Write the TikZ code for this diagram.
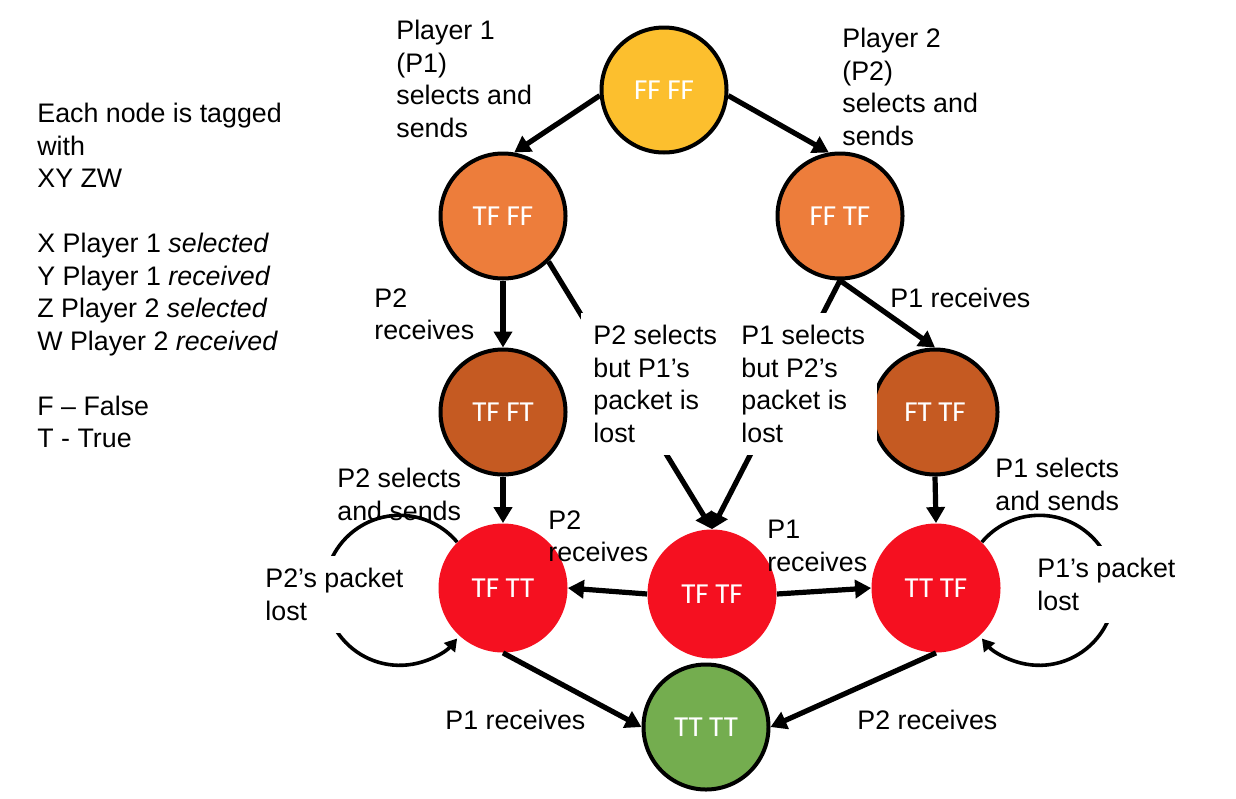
\documentclass[tikz,border=0pt]{standalone}
\usepackage{fontspec}
\setmainfont{Liberation Sans}
\newfontfamily\statefont{Carlito}
\usetikzlibrary{arrows.meta}
\definecolor{stateyellow}{HTML}{FCBF2E}
\definecolor{stateorange}{HTML}{ED7D3B}
\definecolor{statebrown}{HTML}{C55A22}
\definecolor{statered}{HTML}{F51020}
\definecolor{stategreen}{HTML}{74AD4F}
\tikzset{
  state/.style={circle,draw,line width=2pt,minimum size=62.5pt,inner sep=0pt,text=white,font=\statefont\fontsize{14.5}{16}\selectfont},
  redstate/.style={circle,fill=statered,minimum size=64.5pt,inner sep=0pt,text=white,font=\statefont\fontsize{14.5}{16}\selectfont},
  move/.style={line width=2.6pt,-{Triangle[length=8pt,width=9pt]}},
  loopline/.style={line width=1.8pt,-{Triangle[length=6pt,width=7pt]}},
  note/.style={anchor=north west,align=left,inner sep=0pt},
  cover/.style={note,fill=white,inner sep=6pt}
}
\begin{document}
\begin{tikzpicture}[x=0.5pt,y=0.5pt,font=\fontsize{13.4}{16.25}\selectfont]
\useasboundingbox (0,0) rectangle (1236,-798);
% states
\node[state,fill=stateyellow] (ffff) at (664,-90) {FF FF};
\node[state,fill=stateorange] (tfff) at (503,-216) {TF FF};
\node[state,fill=stateorange] (fftf) at (840,-216) {FF TF};
\node[state,fill=statebrown] (tfft) at (503,-412) {TF FT};
\node[state,fill=statebrown] (fttf) at (935,-412) {FT TF};
\node[redstate] (tftt) at (503,-588) {TF TT};
\node[redstate] (tftf) at (712,-594) {TF TF};
\node[redstate] (tttf) at (936,-588) {TT TF};
\node[state,fill=stategreen] (tttt) at (706,-727) {TT TT};
% transitions
\draw[move] (ffff.185) -- (tfff.80);
\draw[move] (ffff.-5) -- (fftf.100);
\draw[move] (tfff.south) -- (tfft.north);
\draw[move] (tfff.-45) -- (tftf.north);
\draw[move] (fftf.south) -- (tftf.north);
\draw[move] (fftf.south) -- (fttf.north);
\draw[move] (tfft.south) -- (tftt.north);
\draw[move] (fttf.south) -- (tttf.north);
\draw[move] (tftf.west) -- (tftt.east);
\draw[move] (tftf.east) -- (tttf.west);
\draw[move] (tftt.south) -- (tttt.west);
\draw[move] (tttf.south) -- (tttt.east);
\draw[loopline] (tftt.135) arc[start angle=40,end angle=320,radius=75];
\draw[loopline] (tttf.45) arc[start angle=140,end angle=-140,radius=75];
% labels
\node[note] (legend) at (37,-103) {Each node is tagged\\with\\XY ZW\\[16.25pt]X Player 1 \textit{selected}\\Y Player 1 \textit{received}\\Z Player 2 \textit{selected}\\W Player 2 \textit{received}\\[16.25pt]F – False\\T - True};
\node[note] (ponesends) at (396,-20) {Player 1\\(P1)\\selects and\\sends};
\node[note] (ptwosends) at (842,-28) {Player 2\\(P2)\\selects and\\sends};
\node[note] (ptwogets) at (374,-288) {P2\\receives};
\node[note] (ponegets) at (890,-288) {P1 receives};
\node[cover] (ponelost) at (581,-313) {P2 selects\\but P1’s\\packet is\\lost};
\node[cover] (ptwolost) at (729,-313) {P1 selects\\but P2’s\\packet is\\lost};
\node[note] (ptworesend) at (337,-468) {P2 selects\\and sends};
\node[note] (poneresend) at (995,-458) {P1 selects\\and sends};
\node[cover] (ptwoloop) at (253,-556) {P2’s packet\\lost};
\node[cover] (poneloop) at (1025,-546) {P1’s packet\\lost};
\node[note] (ptwogetsmid) at (548,-510) {P2\\receives};
\node[note] (ponegetsmid) at (767,-520) {P1\\receives};
\node[note] (ponefinal) at (445,-710) {P1 receives};
\node[note] (ptwofinal) at (857,-710) {P2 receives};
\end{tikzpicture}
\end{document}
